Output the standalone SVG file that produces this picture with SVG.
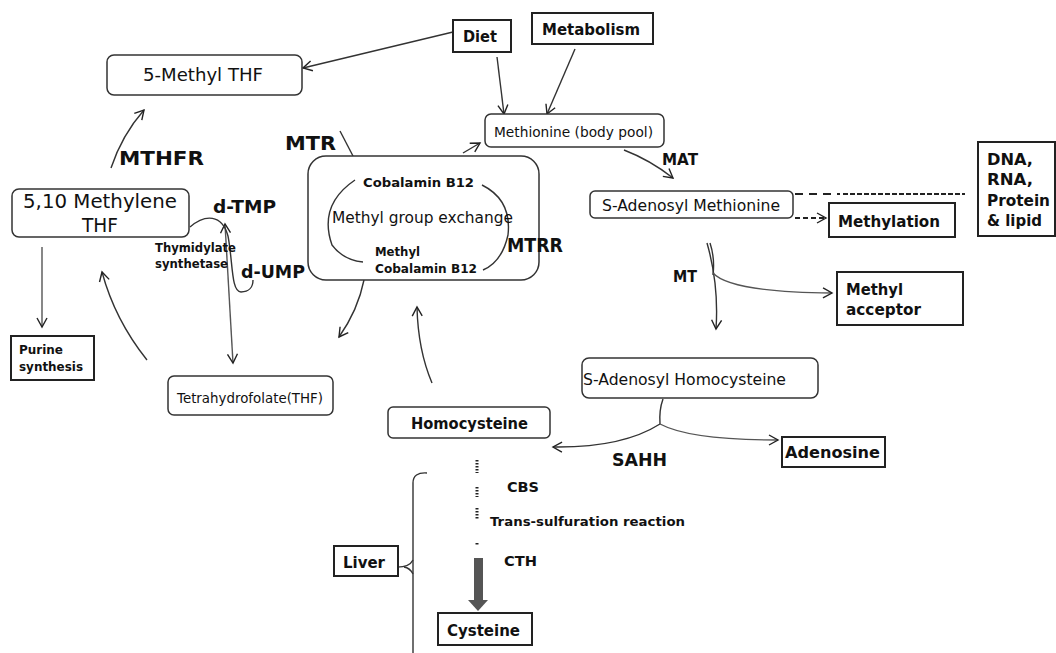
<svg xmlns="http://www.w3.org/2000/svg" width="1056" height="653" viewBox="0 0 1056 653">
<defs>
<style>
text{font-family:"DejaVu Sans","Liberation Sans",sans-serif;fill:#111}
.b{font-weight:bold}
.rb{fill:#fff;stroke:#333;stroke-width:1.5}
.sb{fill:#fff;stroke:#222;stroke-width:2}
.ln{fill:none;stroke:#333;stroke-width:1.4}
.lg{fill:none;stroke:#555;stroke-width:1.4}
</style>
<marker id="a" markerUnits="userSpaceOnUse" markerWidth="14" markerHeight="14" refX="11" refY="7" orient="auto-start-reverse">
<path d="M2,2 L11,7 L2,12" fill="none" stroke="#222" stroke-width="1.4"/>
</marker>
</defs>
<rect width="1056" height="653" fill="#fff"/>

<g id="connectors">
<path class="ln" d="M453,32 L303,68" stroke-width="2" marker-end="url(#a)"/>
<path class="ln" d="M497,57 L504,114" marker-end="url(#a)"/>
<path class="ln" d="M575,49 L547,114" marker-end="url(#a)"/>
<path class="ln" d="M463,153 L480,143" marker-end="url(#a)"/>
<path class="ln" d="M624,150 Q650,160 673,178" marker-end="url(#a)"/>
<path d="M795,194 L840,194" stroke="#222" stroke-width="2" stroke-dasharray="8,6"/>
<path d="M843,194 L965,194" stroke="#222" stroke-width="2" stroke-dasharray="5,2"/>
<path d="M795,218 L826,218" stroke="#222" stroke-width="2" stroke-dasharray="5,3" marker-end="url(#a)"/>
<path class="ln" d="M707,243 Q719,285 716,329" marker-end="url(#a)"/>
<path class="ln" d="M710,243 Q715,258 713,275"/>
<path class="lg" d="M713,273 Q730,292 832,293" marker-end="url(#a)"/>
<path class="ln" d="M663,399 Q659,410 660,424"/>
<path class="ln" d="M660,424 Q622,448 553,447" marker-end="url(#a)"/>
<path class="lg" d="M660,424 Q690,440 778,440" marker-end="url(#a)"/>
<path class="ln" d="M432,383 Q418,350 417,307" marker-end="url(#a)"/>
<path class="ln" d="M364,280 Q358,310 339,337" marker-end="url(#a)"/>
<path class="ln" d="M340,131 L353,156"/>
<path class="ln" d="M111,168 Q122,135 144,110" marker-end="url(#a)"/>
<path class="lg" d="M42,247 L42,327" marker-end="url(#a)"/>
<path class="ln" d="M147,360 Q115,320 102,272" marker-end="url(#a)"/>
<path class="lg" d="M225,224 L233,363" marker-start="url(#a)" marker-end="url(#a)"/>
<path class="ln" d="M190,227 C205,214 222,214 228,236 C233,262 231,292 241,292 C249,292 253,287 253,280"/>
<path d="M477,460 L477,473 M477,487 L477,497 M477,508 L477,520 M477,543 L477,546" stroke="#222" stroke-width="3" stroke-dasharray="1.6,1.4"/>
<rect x="474" y="558" width="9" height="42" fill="#555"/>
<polygon points="468,600 488,600 478,611" fill="#555"/>
<path class="ln" d="M427,473 Q413,472 413,483 L413,653" stroke-width="1.8"/>
<path class="ln" d="M394,567 Q409,568 413,560 M413,574 Q410,568 404,567" stroke-width="1.6"/>
</g>

<g id="n-5methylthf"><rect class="rb" x="107" y="55" width="195" height="40" rx="7"/><text x="143" y="81" font-size="18" textLength="120" lengthAdjust="spacingAndGlyphs">5-Methyl THF</text></g>
<g id="n-diet"><rect class="sb" x="453" y="20" width="58" height="32"/><text class="b" x="463" y="42" font-size="16" textLength="34" lengthAdjust="spacingAndGlyphs">Diet</text></g>
<g id="n-metabolism"><rect class="sb" x="532" y="13" width="121" height="31"/><text class="b" x="542" y="35" font-size="16" textLength="98" lengthAdjust="spacingAndGlyphs">Metabolism</text></g>
<g id="n-methionine"><rect class="rb" x="485" y="114" width="179" height="33" rx="6"/><text x="494" y="137" font-size="14" textLength="159" lengthAdjust="spacingAndGlyphs">Methionine (body pool)</text></g>
<g id="l-mat"><text class="b" x="662" y="165" font-size="15" textLength="36" lengthAdjust="spacingAndGlyphs">MAT</text></g>
<g id="n-sam"><rect class="rb" x="590" y="191" width="203" height="27" rx="5"/><text x="602" y="211" font-size="15" textLength="178" lengthAdjust="spacingAndGlyphs">S-Adenosyl Methionine</text></g>
<g id="n-methylation"><rect class="sb" x="829" y="203" width="126" height="34"/><text class="b" x="838" y="227" font-size="16" textLength="102" lengthAdjust="spacingAndGlyphs">Methylation</text></g>
<g id="n-dna"><rect class="sb" x="978" y="142" width="77" height="94"/>
<text class="b" font-size="16"><tspan x="987" y="165" textLength="46" lengthAdjust="spacingAndGlyphs">DNA,</tspan><tspan x="987" y="185" textLength="46" lengthAdjust="spacingAndGlyphs">RNA,</tspan><tspan x="987" y="206" textLength="63" lengthAdjust="spacingAndGlyphs">Protein</tspan><tspan x="987" y="226" textLength="55" lengthAdjust="spacingAndGlyphs">&amp; lipid</tspan></text></g>
<g id="l-mt"><text class="b" x="673" y="282" font-size="15" textLength="24" lengthAdjust="spacingAndGlyphs">MT</text></g>
<g id="n-methylacceptor"><rect class="sb" x="837" y="272" width="126" height="53"/>
<text class="b" font-size="16"><tspan x="846" y="295" textLength="57" lengthAdjust="spacingAndGlyphs">Methyl</tspan><tspan x="846" y="315" textLength="75" lengthAdjust="spacingAndGlyphs">acceptor</tspan></text></g>
<g id="n-sah"><rect class="rb" x="582" y="358" width="236" height="40" rx="7"/><text x="583" y="385" font-size="15" textLength="203" lengthAdjust="spacingAndGlyphs">S-Adenosyl Homocysteine</text></g>
<g id="n-homocysteine"><rect class="rb" x="388" y="407" width="162" height="31" rx="5"/><text class="b" x="411" y="429" font-size="16" textLength="117" lengthAdjust="spacingAndGlyphs">Homocysteine</text></g>
<g id="n-adenosine"><rect class="sb" x="782" y="437" width="103" height="30"/><text class="b" x="785" y="458" font-size="16" textLength="95" lengthAdjust="spacingAndGlyphs">Adenosine</text></g>
<g id="l-sahh"><text class="b" x="612" y="466" font-size="18" textLength="55" lengthAdjust="spacingAndGlyphs">SAHH</text></g>
<g id="l-cbs"><text class="b" x="507" y="492" font-size="14" textLength="32" lengthAdjust="spacingAndGlyphs">CBS</text></g>
<g id="l-trans"><text class="b" x="490" y="526" font-size="13" textLength="195" lengthAdjust="spacingAndGlyphs">Trans-sulfuration reaction</text></g>
<g id="l-cth"><text class="b" x="504" y="566" font-size="14" textLength="33" lengthAdjust="spacingAndGlyphs">CTH</text></g>
<g id="n-cysteine"><rect class="sb" x="438" y="613" width="94" height="32"/><text class="b" x="447" y="636" font-size="16" textLength="73" lengthAdjust="spacingAndGlyphs">Cysteine</text></g>
<g id="n-liver"><rect class="sb" x="334" y="546" width="64" height="30"/><text class="b" x="343" y="568" font-size="16" textLength="42" lengthAdjust="spacingAndGlyphs">Liver</text></g>
<g id="n-cobalamin"><rect class="rb" x="308" y="156" width="231" height="124" rx="18"/>
<path class="ln" d="M355,180 Q318,205 332,245 Q343,260 363,262"/>
<path class="ln" d="M482,185 Q512,200 508,235 Q502,262 483,270"/>
<text class="b" x="363" y="187" font-size="13" textLength="111" lengthAdjust="spacingAndGlyphs">Cobalamin B12</text>
<text x="332" y="223" font-size="16" textLength="181" lengthAdjust="spacingAndGlyphs">Methyl group exchange</text>
<text class="b" font-size="13"><tspan x="375" y="256" textLength="45" lengthAdjust="spacingAndGlyphs">Methyl</tspan><tspan x="375" y="273" textLength="102" lengthAdjust="spacingAndGlyphs">Cobalamin B12</tspan></text></g>
<g id="l-mtrr"><text class="b" x="507" y="252" font-size="19" textLength="56" lengthAdjust="spacingAndGlyphs">MTRR</text></g>
<g id="l-mtr"><text class="b" x="285" y="150" font-size="20" textLength="51" lengthAdjust="spacingAndGlyphs">MTR</text></g>
<g id="l-mthfr"><text class="b" x="119" y="165" font-size="20" textLength="85" lengthAdjust="spacingAndGlyphs">MTHFR</text></g>
<g id="n-methylenethf"><rect class="rb" x="12" y="189" width="177" height="48" rx="7"/>
<text font-size="20"><tspan x="23" y="208" textLength="154" lengthAdjust="spacingAndGlyphs">5,10 Methylene</tspan><tspan x="82" y="232" textLength="36" lengthAdjust="spacingAndGlyphs">THF</tspan></text></g>
<g id="l-dtmp"><text class="b" x="213" y="213" font-size="18" textLength="63" lengthAdjust="spacingAndGlyphs">d-TMP</text></g>
<g id="l-ts"><text class="b" font-size="12"><tspan x="155" y="252" textLength="81" lengthAdjust="spacingAndGlyphs">Thymidylate</tspan><tspan x="155" y="268" textLength="73" lengthAdjust="spacingAndGlyphs">synthetase</tspan></text></g>
<g id="l-dump"><text class="b" x="241" y="278" font-size="18" textLength="64" lengthAdjust="spacingAndGlyphs">d-UMP</text></g>
<g id="n-purine"><rect class="sb" x="11" y="336" width="83" height="44"/>
<text class="b" font-size="13"><tspan x="19" y="354" textLength="44" lengthAdjust="spacingAndGlyphs">Purine</tspan><tspan x="19" y="371" textLength="64" lengthAdjust="spacingAndGlyphs">synthesis</tspan></text></g>
<g id="n-thf"><rect class="rb" x="168" y="376" width="165" height="39" rx="6"/><text x="177" y="403" font-size="14" textLength="146" lengthAdjust="spacingAndGlyphs">Tetrahydrofolate(THF)</text></g>
</svg>
